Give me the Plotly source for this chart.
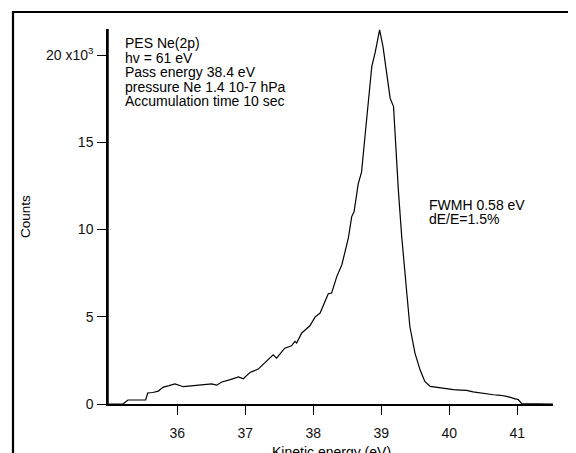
import plotly.graph_objects as go

# Kinetic energy (eV) and counts (in units of 10^3)
energy = [34.98, 35.10, 35.20, 35.275, 35.40, 35.535, 35.565, 35.64, 35.72, 35.795,
          35.88, 35.965, 36.09, 36.18, 36.26, 36.38, 36.505, 36.58, 36.655, 36.78,
          36.90, 36.97, 37.07, 37.19, 37.29, 37.41, 37.46, 37.58, 37.68, 37.73,
          37.755, 37.83, 37.95, 38.025, 38.10, 38.15, 38.22, 38.27, 38.345, 38.42,
          38.465, 38.515, 38.565, 38.60, 38.66, 38.71, 38.76, 38.81, 38.86, 38.91,
          38.975, 39.025, 39.08, 39.13, 39.18, 39.22, 39.25, 39.30, 39.335, 39.375,
          39.42, 39.495, 39.57, 39.64, 39.72, 39.86, 39.96, 40.06, 40.16, 40.255,
          40.35, 40.45, 40.55, 40.65, 40.75, 40.845, 40.97, 41.015, 41.065, 41.30,
          41.525]
counts_k = [0.0, 0.0, 0.0, 0.23, 0.23, 0.23, 0.63, 0.66, 0.74, 0.97,
            1.05, 1.15, 0.99, 1.02, 1.05, 1.08, 1.15, 1.08, 1.26, 1.40,
            1.55, 1.45, 1.81, 2.00, 2.35, 2.82, 2.63, 3.20, 3.34, 3.59,
            3.50, 4.07, 4.48, 4.98, 5.21, 5.69, 6.32, 6.36, 7.30, 7.98,
            8.65, 9.50, 10.74, 11.03, 12.60, 13.30, 15.33, 17.24, 19.34, 20.15,
            21.44, 20.48, 18.96, 17.53, 17.04, 14.00, 12.30, 9.60, 8.26, 6.36,
            4.44, 2.92, 1.96, 1.29, 1.01, 0.92, 0.86, 0.82, 0.80, 0.78,
            0.70, 0.63, 0.58, 0.53, 0.50, 0.44, 0.29, 0.25, 0.02, 0.0,
            0.0]

x_ticks = [36, 37, 38, 39, 40, 41]
y_ticks = [0, 5, 10, 15, 20]
y_ticktext = ["0", "5", "10", "15", "20 x10<sup>3</sup>"]

info_lines = ["PES Ne(2p)", "hv = 61 eV", "Pass energy 38.4 eV",
              "pressure Ne 1.4 10-7 hPa", "Accumulation time 10 sec"]
fwhm_lines = ["FWMH 0.58 eV", "dE/E=1.5%"]

# page offset of the figure (default body margin of the html page)
OFF = 8
W, H = 576, 453
L, T = 108 - OFF, 29 - OFF
R, B = W - (553 - OFF), H - (404 - OFF)
pw, ph = W - L - R, H - T - B

def px(xp):  # page pixel -> paper x
    return (xp - OFF - L) / pw

def py(yp):  # page pixel -> paper y
    return (H - B - (yp - OFF)) / ph

FONT = "Liberation Sans, Arial, sans-serif"
fig = go.Figure()
fig.add_trace(go.Scatter(x=energy, y=counts_k, mode="lines",
                         line=dict(color="black", width=1.2),
                         cliponaxis=False, showlegend=False, hoverinfo="skip"))

ann = []
for i, t in enumerate(info_lines):
    ann.append(dict(text=t, x=px(123), y=py(43.5 + i * 14.4), xref="paper", yref="paper",
                    xanchor="left", yanchor="middle", showarrow=False,
                    font=dict(size=14, color="black", family=FONT)))
for i, t in enumerate(fwhm_lines):
    ann.append(dict(text=t, x=px(427), y=py(204.5 + i * 14.6), xref="paper", yref="paper",
                    xanchor="left", yanchor="middle", showarrow=False,
                    font=dict(size=14, color="black", family=FONT)))
ann.append(dict(text="Counts", x=px(25), y=py(217), xref="paper", yref="paper",
                textangle=-90, xanchor="center", yanchor="middle", showarrow=False,
                font=dict(size=13.5, color="black", family=FONT)))
ann.append(dict(text="Kinetic energy (eV)", x=px(331), y=py(442), xref="paper", yref="paper",
                xanchor="center", yanchor="top", showarrow=False,
                font=dict(size=14, color="black", family=FONT)))

shapes = [
    # outer frame (only its left and top edges fall inside the page)
    dict(type="rect", xref="paper", yref="paper", x0=px(13), x1=px(640), y0=py(12), y1=py(520),
         line=dict(color="black", width=2.2), fillcolor="rgba(0,0,0,0)", layer="above"),
    # left axis line
    dict(type="line", xref="paper", yref="paper", x0=0, x1=0, y0=0, y1=1,
         line=dict(color="black", width=1.5), layer="above"),
]

fig.update_layout(
    width=W, height=H,
    margin=dict(l=L, r=R, t=T, b=B, autoexpand=False),
    paper_bgcolor="white", plot_bgcolor="white",
    font=dict(family=FONT, size=14, color="#111"),
    annotations=ann, shapes=shapes,
    xaxis=dict(range=[34.981, 41.525], tickvals=x_ticks, ticks="outside", ticklen=9,
               tickwidth=1, tickcolor="black", showline=True, linecolor="black",
               linewidth=1.5, showgrid=False, zeroline=False, ticklabelstandoff=6,
               automargin=False),
    yaxis=dict(range=[0, 21.49], tickvals=y_ticks, ticktext=y_ticktext, ticks="outside",
               ticklen=9, tickwidth=1, tickcolor="black", showline=True, linecolor="black",
               linewidth=1.5, showgrid=False, zeroline=False, ticklabelstandoff=1,
               automargin=False),
)
fig.write_html("out.html", config={"displayModeBar": False})
